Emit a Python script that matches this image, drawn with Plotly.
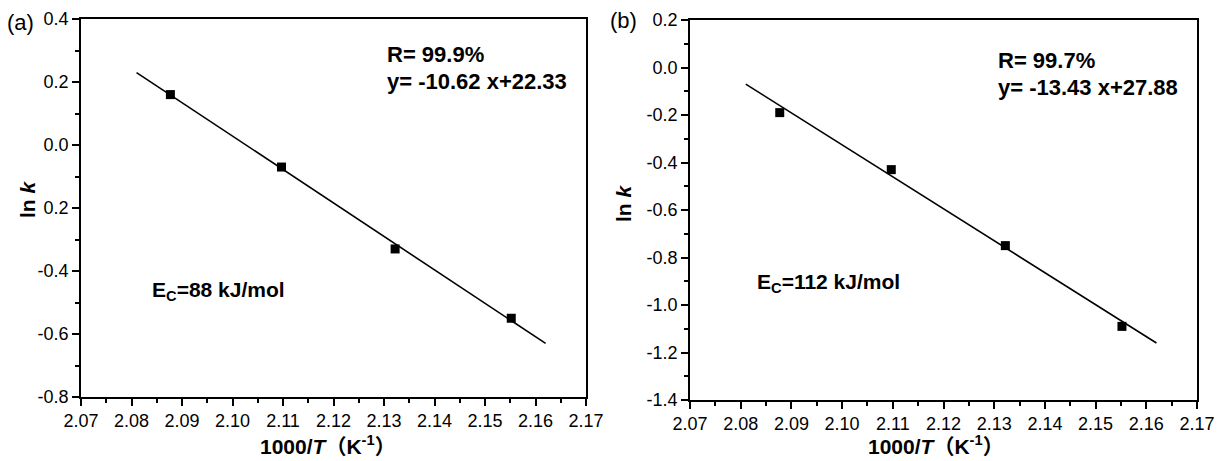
import plotly.graph_objects as go

# ---------------- data ----------------
inv_T = [2.0877, 2.1097, 2.1322, 2.1552]          # 1000/T (K^-1)
lnk_a = [0.16, -0.07, -0.33, -0.55]                # panel (a)
lnk_b = [-0.19, -0.43, -0.75, -1.09]               # panel (b)

fit_x = [2.081, 2.162]                             # fitted line ends
fit_a_y = [0.23, -0.63]                            # y = -10.62 x + 22.33
fit_b_y = [-0.07, -1.16]                           # y = -13.43 x + 27.88

x_ticks = [2.07, 2.08, 2.09, 2.10, 2.11, 2.12, 2.13, 2.14, 2.15, 2.16, 2.17]
x_ticklabels = ["2.07", "2.08", "2.09", "2.10", "2.11", "2.12", "2.13", "2.14", "2.15", "2.16", "2.17"]
ya_ticks = [0.4, 0.2, 0.0, -0.2, -0.4, -0.6, -0.8]
ya_ticklabels = ["0.4", "0.2", "0.0", "0.2", "-0.4", "-0.6", "-0.8"]
yb_ticks = [0.2, 0.0, -0.2, -0.4, -0.6, -0.8, -1.0, -1.2, -1.4]
yb_ticklabels = ["0.2", "0.0", "-0.2", "-0.4", "-0.6", "-0.8", "-1.0", "-1.2", "-1.4"]

# ---------------- layout helpers ----------------
W, H = 1219, 461
FONT = "Arial, Liberation Sans, Noto Sans CJK SC, sans-serif"


def px(x):
    return x / W


def py(y):
    return 1 - y / H


fig = go.Figure()

marker = dict(symbol="square", size=9, color="black")
line = dict(color="black", width=1.6)

fig.add_trace(go.Scatter(x=fit_x, y=fit_a_y, mode="lines", line=line,
                         xaxis="x", yaxis="y", showlegend=False))
fig.add_trace(go.Scatter(x=inv_T, y=lnk_a, mode="markers", marker=marker,
                         xaxis="x", yaxis="y", showlegend=False))
fig.add_trace(go.Scatter(x=fit_x, y=fit_b_y, mode="lines", line=line,
                         xaxis="x2", yaxis="y2", showlegend=False))
fig.add_trace(go.Scatter(x=inv_T, y=lnk_b, mode="markers", marker=marker,
                         xaxis="x2", yaxis="y2", showlegend=False))

common = dict(showline=True, linecolor="black", linewidth=1.5, mirror=True,
              ticks="outside", ticklen=7, tickwidth=1.5, tickcolor="black",
              showgrid=False, zeroline=False, automargin=False,
              tickfont=dict(family=FONT, size=18, color="black"))

xcommon = dict(common, range=[2.07, 2.17], tickmode="array",
               tickvals=x_ticks, ticktext=x_ticklabels,
               minor=dict(tickmode="linear", tick0=2.07, dtick=0.005,
                          ticks="outside", ticklen=4, tickwidth=1.5,
                          tickcolor="black", showgrid=False))

fig.update_layout(
    width=W, height=H,
    margin=dict(l=0, r=0, t=0, b=0, autoexpand=False),
    paper_bgcolor="white", plot_bgcolor="white",
    xaxis=dict(xcommon, domain=[px(81), px(586)], anchor="y"),
    yaxis=dict(common, domain=[py(397), py(19)], anchor="x",
               range=[-0.8, 0.4], tickmode="array",
               tickvals=ya_ticks, ticktext=ya_ticklabels,
               minor=dict(tickmode="linear", tick0=-0.8, dtick=0.1,
                          ticks="outside", ticklen=4, tickwidth=1.5,
                          tickcolor="black", showgrid=False)),
    xaxis2=dict(xcommon, domain=[px(690), px(1197)], anchor="y2"),
    yaxis2=dict(common, domain=[py(400), py(20)], anchor="x2",
                range=[-1.4, 0.2], tickmode="array",
                tickvals=yb_ticks, ticktext=yb_ticklabels,
                minor=dict(tickmode="linear", tick0=-1.4, dtick=0.1,
                           ticks="outside", ticklen=4, tickwidth=1.5,
                           tickcolor="black", showgrid=False)),
)


def ann(text, x, y, size, xanchor="left", angle=0, bold=False):
    if bold:
        text = "<b>" + text + "</b>"
    fig.add_annotation(text=text, x=px(x), y=py(y), xref="paper", yref="paper",
                       xanchor=xanchor, yanchor="middle", showarrow=False,
                       textangle=angle, borderpad=0,
                       font=dict(family=FONT, size=size, color="black"))


# panel labels
ann("(a)", 6, 22, 22)
ann("(b)", 609, 20, 22)

# axis titles
xtitle = "1000/<i>T</i>（K<sup>-1</sup>）"
ann(xtitle, 328, 445, 21, xanchor="center", bold=True)
ann(xtitle, 936, 445, 21, xanchor="center", bold=True)
ann("ln <i>k</i>", 27, 199, 21, xanchor="center", angle=-90, bold=True)
ann("ln <i>k</i>", 624, 203, 21, xanchor="center", angle=-90, bold=True)

# in-plot texts
ann("R= 99.9%", 386, 55, 22, bold=True)
ann("y= -10.62 x+22.33", 386, 81, 22, bold=True)
ann("E<sub>C</sub>=88 kJ/mol", 151, 291, 21, bold=True)

ann("R= 99.7%", 997, 61, 22, bold=True)
ann("y= -13.43 x+27.88", 997, 88, 22, bold=True)
ann("E<sub>C</sub>=112 kJ/mol", 756, 283, 21, bold=True)

fig.write_html("out.html")
